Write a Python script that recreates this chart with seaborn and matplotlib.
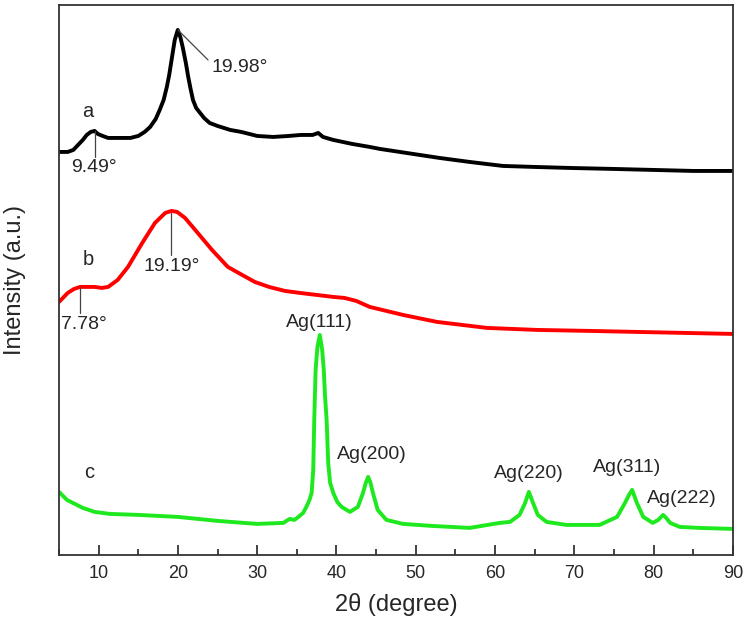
import matplotlib
matplotlib.use("Agg")
import matplotlib.pyplot as plt
import seaborn as sns
import pandas as pd
from matplotlib.ticker import MultipleLocator

# ---- data ----
a_x = [5, 6.1, 6.8, 7.4, 8.0, 8.5, 9.0, 9.49, 9.9, 10.5, 11.2, 12, 13, 14, 15, 15.8, 16.5, 17.2, 17.7, 18.2,
       18.6, 18.9, 19.2, 19.6, 19.98, 20.3, 20.6, 21.0, 21.3, 21.6, 21.9, 22.3, 22.8, 23.3, 24.0, 25.0, 26.6, 28, 30, 32,
       34, 35.5, 37, 37.7, 38.3, 39.6, 42, 44.2, 45.5, 48, 50.5, 53, 56.8, 61, 65, 69.4, 75, 80, 85, 90]
a_y = [403, 403, 405, 410, 415, 420, 423, 424, 421, 419, 417, 417, 417, 417, 419, 423, 428, 436, 445, 455,
       468, 480, 495, 515, 525, 518, 508, 492, 478, 466, 455, 447, 442, 437, 432, 429, 425, 423, 419, 418,
       419, 420, 420, 422, 418, 415, 411, 408, 406, 403, 400, 397, 393, 389, 388, 387, 386, 385, 384, 384]

b_x = [5, 6.1, 6.9, 7.65, 8.6, 9.5, 10.4, 11.2, 12.4, 13.7, 15.5, 17.1, 18.4, 19.19, 19.9, 20.9, 22.5, 24.3, 26.3, 28.1,
       29.7, 31.5, 33.5, 35.4, 37.5, 39.6, 41, 42.5, 44.2, 46.3, 48.4, 52.7, 59, 65.3, 72, 77.9, 84, 90]
b_y = [253, 262, 266, 268, 268, 268, 267, 268, 275, 288, 312, 332, 342, 344, 343, 337, 322, 305, 288, 280,
       273, 268, 264, 262, 260, 258, 257, 254, 248, 244, 240, 233, 227, 225, 224, 223, 222, 221]

c_x = [5, 6, 7, 8, 9.5, 11.4, 15, 20, 25, 30, 33.3, 34.1, 34.7, 35.2, 35.8, 36.2, 36.6, 36.87, 37.07, 37.2,
       37.37, 37.6, 37.9, 38.2, 38.4, 38.55, 38.76, 38.96, 39.2, 39.6, 40.1, 40.65, 41.7, 42.7, 43.35, 43.7, 44.0, 44.3, 44.6, 45.2,
       46.3, 48.4, 52, 56.8, 60.6, 61.9, 63.1, 63.8, 64.27, 64.8, 65.4, 66.5, 69, 73.2, 75.4, 76.4, 76.9, 77.3, 77.9, 78.7,
       79.9, 80.6, 81.2, 81.6, 82.1, 83.3, 85.8, 90]
c_y = [63, 55, 51, 47, 43, 41, 40, 38, 34, 31, 32, 36, 35, 38, 42, 48, 55, 62, 85, 135,
       185, 208, 220, 205, 185, 160, 135, 92, 72, 62, 53, 48, 43, 48, 62, 72, 78, 72, 62, 45,
       35, 31, 29, 27, 32, 33, 40, 52, 63, 52, 40, 33, 30, 30, 38, 52, 60, 65, 52, 38,
       32, 35, 40, 37, 32, 28, 27, 26]

series_names = ["a", "b", "c"]
series_colors = ["#000000", "#ff0000", "#1ee81e"]

peak_labels = ["Ag(111)", "Ag(200)", "Ag(220)", "Ag(311)", "Ag(222)"]
peak_label_pos = [(37.9, 232), (44.5, 100), (64.3, 81), (76.6, 87), (83.6, 56)]

x_ticks = [10, 20, 30, 40, 50, 60, 70, 80, 90]

# ---- build long-form table ----
df = pd.concat([
    pd.DataFrame({"x": a_x, "y": a_y, "s": "a"}),
    pd.DataFrame({"x": b_x, "y": b_y, "s": "b"}),
    pd.DataFrame({"x": c_x, "y": c_y, "s": "c"}),
], ignore_index=True)

sns.set_style("white")
plt.rcParams["font.family"] = ["Liberation Sans", "DejaVu Sans"]

fig = plt.figure(figsize=(7.47, 6.2), dpi=100)
ax = fig.add_axes([0.079, 0.105, 0.902, 0.887])

sns.lineplot(data=df, x="x", y="y", hue="s", palette=dict(zip(series_names, series_colors)),
             sort=False, estimator=None, legend=False, linewidth=2.8, ax=ax)
for ln in ax.get_lines():
    ln.set_solid_joinstyle("round")

ax.set_xlim(5, 90)
ax.set_ylim(0, 550)
ax.set_xticks(x_ticks)
ax.xaxis.set_minor_locator(MultipleLocator(5))
ax.set_yticks([])
ax.tick_params(axis="x", which="major", direction="in", length=7, width=1.2, labelsize=13,
               pad=7, bottom=True, top=False, color="#222222")
ax.tick_params(axis="x", which="minor", direction="in", length=4, width=1.2, bottom=True, top=False,
               color="#222222")
for sp in ax.spines.values():
    sp.set_color("#333333")
    sp.set_linewidth(1.3)

ax.set_xlabel("2θ (degree)", fontsize=17, labelpad=8)
ax.set_ylabel("Intensity (a.u.)", fontsize=17, labelpad=24)

# curve letters
fs = 14.5
ax.text(8.66, 443, "a", fontsize=fs, ha="center", va="center")
ax.text(8.7, 295, "b", fontsize=fs, ha="center", va="center")
ax.text(8.8, 82, "c", fontsize=fs, ha="center", va="center")

# peak position annotations
lc = "#444444"
ax.plot([9.49, 9.49], [424, 398], color=lc, lw=0.9)
ax.text(9.4, 387, "9.49°", fontsize=14, ha="center", va="center")
ax.plot([20.0, 23.8], [525, 495], color=lc, lw=0.9)
ax.text(24.2, 487, "19.98°", fontsize=14, ha="left", va="center")
ax.plot([19.19, 19.19], [342, 300], color=lc, lw=0.9)
ax.text(19.25, 288, "19.19°", fontsize=14, ha="center", va="center")
ax.plot([7.65, 7.65], [268, 242], color=lc, lw=0.9)
ax.text(5.3, 230, "7.78°", fontsize=14, ha="left", va="center")

for lab, (px, py) in zip(peak_labels, peak_label_pos):
    ax.text(px, py, lab, fontsize=14, ha="center", va="center")

fig.savefig("out.png", dpi=100)
